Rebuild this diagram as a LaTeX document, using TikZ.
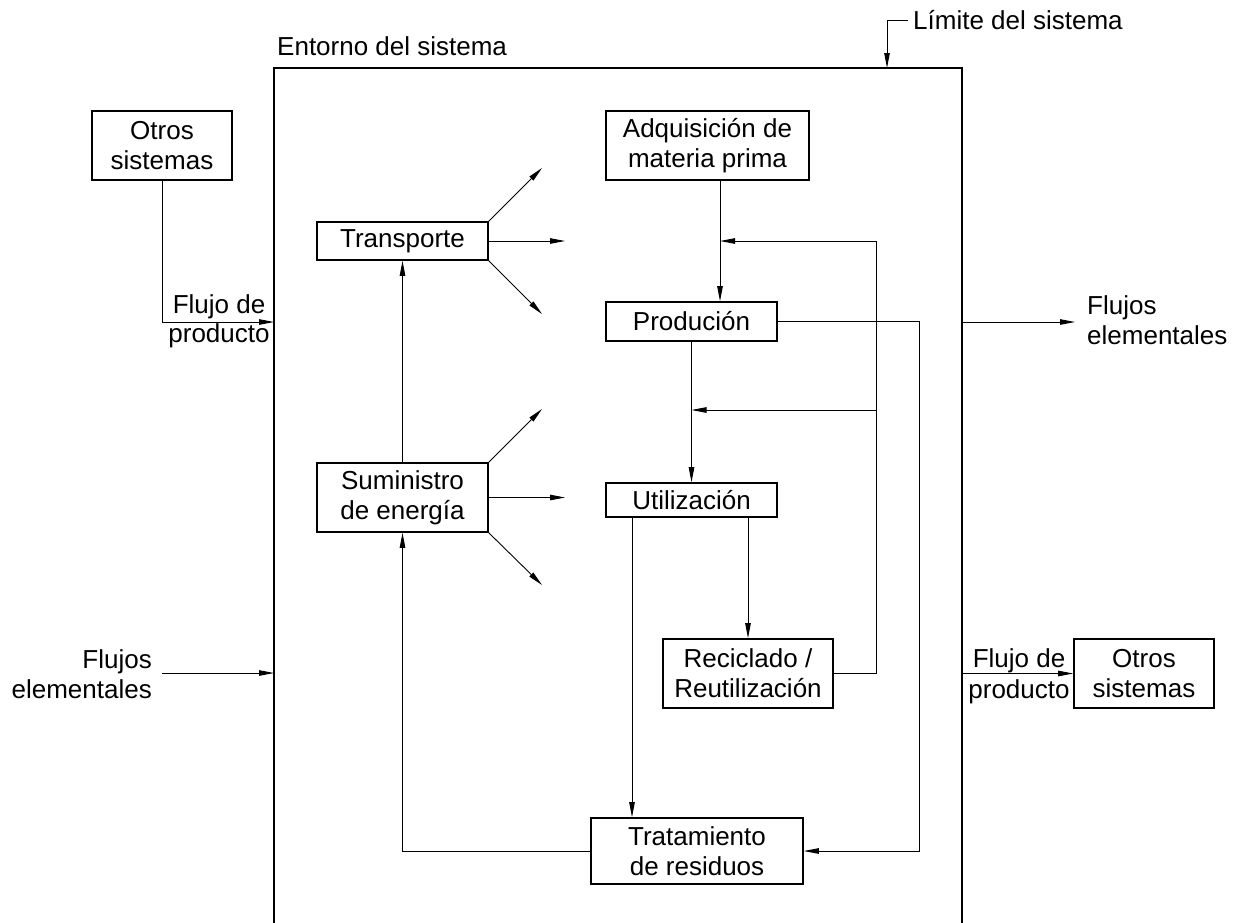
\documentclass[tikz,border=0pt]{standalone}
\usepackage{fontspec}
\setmainfont{Liberation Sans}
\usetikzlibrary{arrows.meta}
\begin{document}
\begin{tikzpicture}[x=1pt,y=-1pt,
  txt/.style={font=\fontsize{26}{30}\selectfont, inner sep=0pt},
  proc/.style={txt, draw, line width=1.6pt, align=center},
  flow/.style={line width=0.9pt, -{Triangle[length=15pt,width=5.5pt]}},
  wire/.style={line width=0.9pt}
]
\useasboundingbox (0,0) rectangle (1234,922);

% system boundary (open at the bottom)
\draw[line width=1.8pt] (274,930) -- (274,68) -- (962,68) -- (962,930);
\node[txt, anchor=base west] (ent) at (277,55) {Entorno del sistema};
\node[txt, anchor=base west] (lim) at (913,29) {Límite del sistema};
\coordinate (limB) at (887,68);
\draw[flow] ([xshift=-5pt,yshift=9pt]lim.base west) -| (limB);

% process boxes
\node[proc, minimum width=140, minimum height=69] (oL) at (162,145.5) {Otros\\sistemas};
\node[proc, minimum width=203, minimum height=69] (adq) at (707.5,145.5) {Adquisición de\\materia prima};
\node[proc, minimum width=171, minimum height=38] (tra) at (402.5,241) {Transporte};
\node[proc, minimum width=171, minimum height=39] (pro) at (691.5,321.5) {Produción};
\node[proc, minimum width=171, minimum height=69] (sum) at (402.5,497.5) {Suministro\\de energía};
\node[proc, minimum width=171, minimum height=34] (uti) at (691.5,500) {Utilización};
\node[proc, minimum width=170, minimum height=69] (rec) at (748,673.5) {Reciclado /\\Reutilización};
\node[proc, minimum width=212, minimum height=66] (tr) at (697,851) {Tratamiento\\de residuos};
\node[proc, minimum width=140, minimum height=69] (oR) at (1144,673.5) {Otros\\sistemas};

% product flow in from the left
\coordinate (bL1) at (274,322);
\draw[flow] (oL.south) |- (bL1);
\node[txt, anchor=base] (fpL1) at (219,313) {Flujo de};
\node[txt, anchor=base] (fpL2) at (219,342) {producto};

% elementary flows in from the left
\node[txt, anchor=base east] (feL1) at (152,668) {Flujos};
\node[txt, anchor=base east] (feL2) at (152,698) {elementales};
\coordinate (eL) at (162,673);
\coordinate (bL2) at (274,673);
\draw[flow] (eL) -- (bL2);

% elementary flows out to the right
\coordinate (bR1) at (962,322);
\coordinate (eR) at (1075,322);
\draw[flow] (bR1) -- (eR);
\node[txt, anchor=base west] (feR1) at (1087,314) {Flujos};
\node[txt, anchor=base west] (feR2) at (1087,344) {elementales};

% product flow out to the right
\coordinate (bR2) at (962,673.5);
\draw[flow] (bR2) -- (oR.west);
\node[txt, anchor=base] (fpR1) at (1019,667) {Flujo de};
\node[txt, anchor=base] (fpR2) at (1019,698) {producto};

% transport and energy outputs
\coordinate (t1) at (542,168);
\coordinate (t2) at (565,241);
\coordinate (t3) at (542,314);
\draw[flow] (tra.north east) -- (t1);
\draw[flow] (tra.east) -- (t2);
\draw[flow] (tra.south east) -- (t3);
\coordinate (s1) at (542,409);
\coordinate (s2) at (565,497.5);
\coordinate (s3) at (542,585);
\draw[flow] (sum.north east) -- (s1);
\draw[flow] (sum.east) -- (s2);
\draw[flow] (sum.south east) -- (s3);
\draw[flow] (sum.north) -- (tra.south);

% main chain
\draw[flow] ([xshift=12.5pt]adq.south) -- ([xshift=12.5pt]adq.south |- pro.north);
\draw[flow] (pro.south) -- (uti.north);
\draw[flow] (uti.south -| rec.north) -- (rec.north);
\draw[flow] ([xshift=-59.5pt]uti.south) -- ([xshift=-59.5pt]uti.south |- tr.north);

% recycling feedback
\coordinate (fbTop) at (876,241);
\coordinate (fbMid) at (876,410);
\coordinate (j1) at (720,241);
\coordinate (j2) at (691.5,410);
\draw[flow] (rec.east) -| (fbTop) -- (j1);
\draw[flow] (fbMid) -- (j2);

% production waste to treatment
\coordinate (pw) at (919,851);
\draw[flow] (pro.east) -| (pw) -- (tr.east);

% treatment back to energy supply
\draw[flow] (tr.west) -| (sum.south);
\end{tikzpicture}
\end{document}
